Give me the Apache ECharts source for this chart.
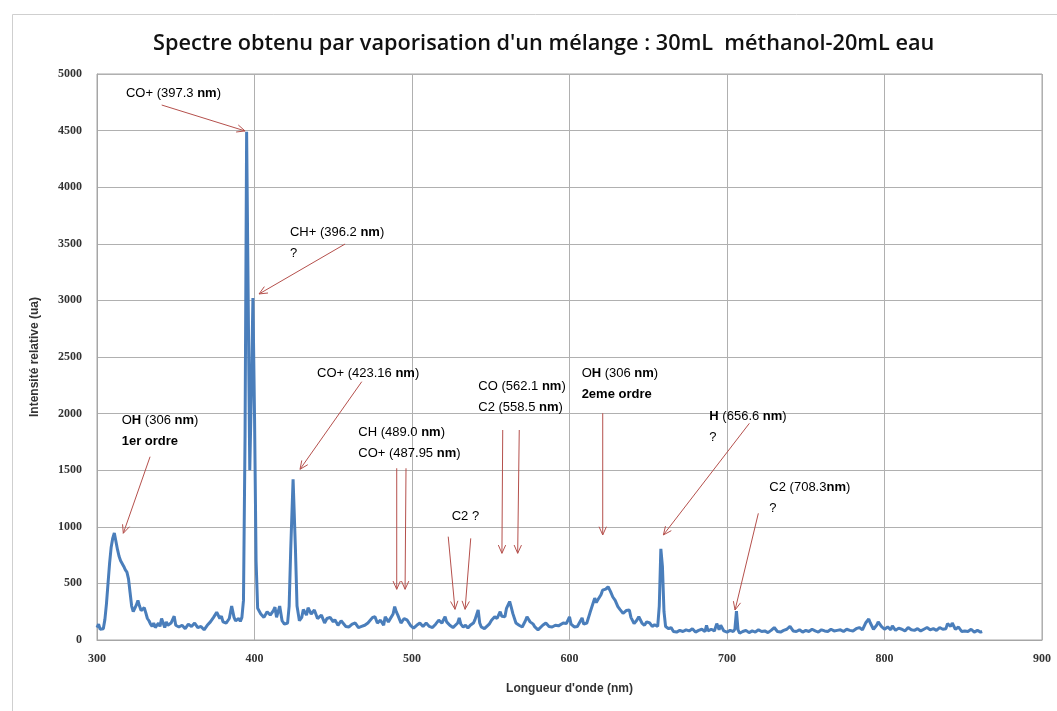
<!DOCTYPE html>
<html>
<head>
<meta charset="utf-8">
<script src="https://cdn.jsdelivr.net/npm/echarts@6/dist/echarts.min.js"></script>
<style>
  html, body { margin: 0; padding: 0; background: #fff; }
  #chart { width: 1057px; height: 711px; }
</style>
</head>
<body>
<div id="chart"></div>
<script>
// Emission spectrum: [wavelength (nm), relative intensity (ua)]
const spectrum = [
  [300,110],[301,140],[302,95],[303,85],[304,100],[305,180],[306,320],[307,500],[308,680],[309,820],
  [310,900],[311,945],[312,930],[313,800],[314,740],[315,700],[316,690],[317,650],[318,620],[319,600],
  [320,540],[321,420],[322,300],[323,250],[324,280],[325,310],[326,350],[327,300],[328,260],[329,270],
  [330,285],[331,240],[332,190],[333,170],[334,140],[335,120],[336,150],[337,110],[338,130],[339,150],
  [340,120],[341,190],[342,150],[343,110],[344,160],[345,130],[346,120],[347,150],[348,140],[349,210],
  [350,130],[352,115],[354,130],[356,100],[358,140],[360,120],[362,150],[364,110],[366,120],[368,90],
  [370,130],[372,160],[374,200],[376,245],[378,190],[379,210],[380,160],[382,150],[384,190],[385.5,300],
  [387,200],[388,170],[390,190],[391,165],[392,200],[393,350],[394,1800],[395,4490],[396,3000],[397,1500],
  [398,2200],[399,3020],[400,2000],[401,700],[402,280],[404,230],[406,200],[408,250],[410,220],[412,260],
  [413,290],[414,200],[416,300],[417.5,170],[419,140],[421,150],[422,300],[423,800],[424.5,1420],[426,800],
  [427,300],[428.5,170],[430,200],[431,270],[433,220],[434,285],[436,230],[438,265],[440,190],[442.5,220],
  [444.5,150],[446,190],[448,200],[450,160],[451,180],[453,130],[455,170],[456,160],[458,120],[460,115],
  [462,140],[464,150],[466,110],[468,120],[470,130],[472,150],[473,165],[475,200],[476.5,205],[478,150],
  [480,175],[482,130],[483,205],[485,160],[486,175],[488,230],[489,295],[490,250],[491,220],[493,150],
  [495,190],[497,175],[499,130],[501,105],[503,130],[505,150],[507,120],[509,150],[511,120],[513,110],
  [515,140],[517,175],[519,150],[521,205],[522,160],[524,130],[526,110],[527,120],[529,150],[530,195],
  [531,140],[532.5,115],[534,130],[535.5,105],[537,130],[539,150],[540,180],[542,265],[543,150],[544,115],
  [546,100],[547,105],[549,140],[550.5,175],[552.5,205],[554,190],[556,250],[557,210],[559,205],[560,280],
  [562,340],[563,290],[564,235],[566,150],[568,130],[570,115],[572,170],[573,205],[575,160],[577,140],
  [578,115],[580,90],[581,95],[583,130],[585,150],[587,120],[589,115],[591,130],[593,125],[594,130],
  [596,150],[598,145],[600,205],[601,140],[603,115],[605,120],[606,110],[608,195],[609,140],[611,150],
  [613,240],[614,230],[616,370],[617,330],[618,355],[620,400],[621,440],[623,450],[624.5,470],[626,430],
  [627.5,380],[629,350],[630.7,295],[632,270],[634,235],[636,260],[638,265],[639,200],[641,145],[642.5,170],
  [644,205],[646,150],[647.6,130],[649,160],[651,150],[652.5,120],[654,135],[656,120],[657,300],[658,805],
  [659,650],[660,250],[661,120],[663,100],[664.5,110],[666,75],[668,70],[670,85],[672,75],[674,90],
  [676,80],[678,100],[680,70],[682,85],[684,95],[686,75],[687,130],[688,80],[690,95],[692,80],
  [693.5,145],[695,90],[696,130],[698,80],[700,70],[702,85],[704,75],[705,95],[706,255],[707,90],
  [708,60],[710,75],[712,85],[714,65],[716,80],[718,70],[720,90],[722,75],[724,80],[726,65],
  [728,85],[730,110],[732,75],[734,70],[736,85],[738,95],[740,120],[742,80],[744,75],[746,90],
  [748,70],[750,85],[752,75],[754,95],[756,80],[758,70],[760,90],[762,80],[764,75],[766,95],
  [768,80],[770,85],[772,90],[774,75],[776,95],[778,85],[780,80],[782,100],[784,110],[786,90],
  [788,150],[790,185],[791,150],[793,95],[795,130],[796,160],[798,120],[800,95],[802,115],[804,90],
  [805,125],[807,85],[809,105],[811,95],[813,80],[815,110],[817,90],[819,85],[821,100],[823,80],
  [825,95],[827,110],[829,90],[831,100],[833,85],[835,110],[837,95],[839,100],[840,145],[842,120],
  [843,150],[845,95],[847,115],[849,75],[851,80],[853,75],[855,95],[857,70],[859,85],[861,70],[862,75]
];

// Axis ranges and ticks
const xRange = [300, 900];
const xStep = 100;
const yRange = [0, 5000];
const yStep = 500;

// Line identifications: text and the point (nm, ua) where the text block starts
const peakLabels = [
  { text: '{n|CO+ (397.3 }{b|nm}{n|)}', at: [318.4, 4832] },
  { text: '{n|CH+ (396.2 }{b|nm}{n|)}\n{n|?}', at: [422.5, 3604] },
  { text: '{n|O}{b|H}{n| (306 }{b|nm}{n|)}\n{b|1er ordre}', at: [315.7, 1937] },
  { text: '{n|CO+ (423.16 }{b|nm}{n|)}', at: [439.7, 2356] },
  { text: '{n|CH (489.0 }{b|nm}{n|)}\n{n|CO+ (487.95 }{b|nm}{n|)}', at: [465.9, 1831] },
  { text: '{n|C2 ?}', at: [525.2, 1089] },
  { text: '{n|CO (562.1 }{b|nm}{n|)}\n{n|C2 (558.5 }{b|nm}{n|)}', at: [542.1, 2244] },
  { text: '{n|O}{b|H}{n| (306 }{b|nm}{n|)}\n{b|2eme ordre}', at: [607.7, 2356] },
  { text: '{b|H}{n| (656.6 }{b|nm}{n|)}\n{n|?}', at: [688.8, 1979] },
  { text: '{n|C2 (708.3}{b|nm}{n|)}\n{n|?}', at: [726.9, 1349] }
];

// Pointer arrows: [from nm, from ua, to nm, to ua]
const arrows = [
  [341.1, 4726, 394.0, 4497],
  [457.5, 3498, 402.9, 3057],
  [333.7, 1619, 316.7, 943],
  [468.1, 2282, 428.9, 1508],
  [490.3, 1517, 490.3, 448],
  [496.2, 1517, 495.6, 448],
  [523.0, 913, 527.3, 271],
  [537.3, 898, 533.7, 271],
  [557.6, 1855, 557.1, 766],
  [568.1, 1855, 567.1, 766],
  [621.1, 2003, 621.1, 928],
  [714.2, 1914, 659.6, 928],
  [719.9, 1119, 705.1, 265]
];

const ARROW_COLOR = '#b5504c';
const LABEL_FONT = 'Liberation Sans, Arial, sans-serif';

const chart = echarts.init(document.getElementById('chart'), null, { renderer: 'canvas' });

function renderArrow(params, api) {
  const p1 = api.coord([api.value(0), api.value(1)]);
  const p2 = api.coord([api.value(2), api.value(3)]);
  const ang = Math.atan2(p2[1] - p1[1], p2[0] - p1[0]);
  const len = 9, spread = 0.42;
  const h1 = [p2[0] - len * Math.cos(ang - spread), p2[1] - len * Math.sin(ang - spread)];
  const h2 = [p2[0] - len * Math.cos(ang + spread), p2[1] - len * Math.sin(ang + spread)];
  return {
    type: 'group',
    children: [
      { type: 'line', shape: { x1: p1[0], y1: p1[1], x2: p2[0], y2: p2[1] },
        style: { stroke: ARROW_COLOR, lineWidth: 1 } },
      { type: 'polyline', shape: { points: [h1, p2, h2] },
        style: { stroke: ARROW_COLOR, lineWidth: 1, fill: null } }
    ]
  };
}

function renderLabel(params, api) {
  const item = peakLabels[params.dataIndex];
  const p = api.coord(item.at);
  return {
    type: 'text',
    x: p[0],
    y: p[1] - 10.5,
    style: {
      text: item.text,
      align: 'left',
      verticalAlign: 'top',
      rich: {
        n: { fontFamily: LABEL_FONT, fontSize: 13, color: '#555', lineHeight: 21 },
        b: { fontFamily: LABEL_FONT, fontSize: 13, color: '#3a3a3a', fontWeight: 'bold', lineHeight: 21 }
      }
    }
  };
}

const option = {
  backgroundColor: '#ffffff',
  animation: false,
  title: {
    text: "Spectre obtenu par vaporisation d'un mélange : 30mL  méthanol-20mL eau",
    left: 148,
    top: 28,
    textStyle: { fontFamily: 'Open Sans', fontSize: 21.7, fontWeight: 600, color: '#111' }
  },
  graphic: [
    { type: 'rect', left: 10, top: 12, shape: { width: 1060, height: 697 },
      style: { fill: null, stroke: '#cfcfcf', lineWidth: 1 }, silent: true, z: -1 }
  ],
  grid: { left: 97, right: 15, top: 74, bottom: 71, show: true, borderColor: '#a6a6a6', borderWidth: 1 },
  xAxis: {
    type: 'value',
    min: xRange[0], max: xRange[1], interval: xStep,
    name: "Longueur d'onde (nm)",
    nameLocation: 'middle',
    nameGap: 43,
    nameTextStyle: { fontFamily: LABEL_FONT, fontSize: 12, fontWeight: 'bold', color: '#333' },
    axisLine: { show: true, lineStyle: { color: '#a6a6a6' } },
    axisTick: { show: false },
    axisLabel: { margin: 13, fontFamily: 'Liberation Serif', fontWeight: 'bold', fontSize: 12, color: '#333',
      formatter: v => String(v) },
    splitLine: { show: true, lineStyle: { color: '#b0b0b0', width: 1 } }
  },
  yAxis: {
    type: 'value',
    min: yRange[0], max: yRange[1], interval: yStep,
    name: 'Intensité relative (ua)',
    nameLocation: 'middle',
    nameGap: 56,
    nameTextStyle: { fontFamily: LABEL_FONT, fontSize: 12, fontWeight: 'bold', color: '#333' },
    axisLine: { show: true, lineStyle: { color: '#a6a6a6' } },
    axisTick: { show: false },
    axisLabel: { margin: 15, fontFamily: 'Liberation Serif', fontWeight: 'bold', fontSize: 12, color: '#333',
      formatter: v => String(v) },
    splitLine: { show: true, lineStyle: { color: '#b0b0b0', width: 1 } }
  },
  series: [
    {
      type: 'line',
      data: spectrum,
      showSymbol: false,
      smooth: false,
      lineStyle: { color: '#4a7ebb', width: 3 },
      itemStyle: { color: '#4a7ebb' },
      z: 3
    },
    {
      type: 'custom',
      data: arrows,
      encode: { x: [0, 2], y: [1, 3] },
      renderItem: renderArrow,
      clip: false,
      z: 4
    },
    {
      type: 'custom',
      data: peakLabels.map(l => l.at),
      encode: { x: 0, y: 1 },
      renderItem: renderLabel,
      clip: false,
      z: 5
    }
  ]
};

chart.setOption(option);
</script>
</body>
</html>
